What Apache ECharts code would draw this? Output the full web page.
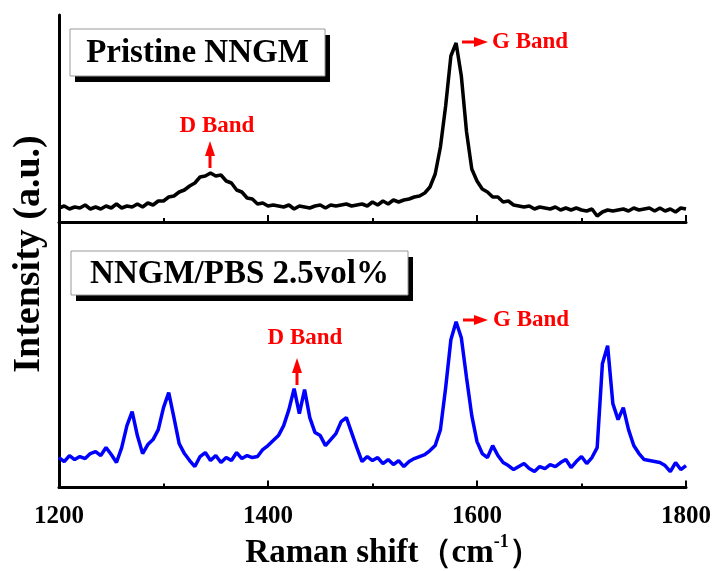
<!DOCTYPE html>
<html>
<head>
<meta charset="utf-8">
<title>Raman spectra of NNGM</title>
<script src="https://cdn.jsdelivr.net/npm/echarts@6/dist/echarts.min.js"></script>
<style>
  html, body { margin: 0; padding: 0; background: #fff; }
  #chart { width: 714px; height: 571px; }
</style>
</head>
<body>
<div id="chart"></div>
<script>
// Raman shift (cm-1), sample positions shared by both spectra
const ramanShift = [
  1200, 1205, 1210, 1215, 1220, 1225, 1230, 1235, 1240, 1245,
  1250, 1255, 1260, 1265, 1270, 1275, 1280, 1285, 1290, 1295,
  1300, 1305, 1310, 1315, 1320, 1325, 1330, 1335, 1340, 1345,
  1350, 1355, 1360, 1365, 1370, 1375, 1380, 1385, 1390, 1395,
  1400, 1405, 1410, 1415, 1420, 1425, 1430, 1435, 1440, 1445,
  1450, 1455, 1460, 1465, 1470, 1475, 1480, 1485, 1490, 1495,
  1500, 1505, 1510, 1515, 1520, 1525, 1530, 1535, 1540, 1545,
  1550, 1555, 1560, 1565, 1570, 1575, 1580, 1585, 1590, 1595,
  1600, 1605, 1610, 1615, 1620, 1625, 1630, 1635, 1640, 1645,
  1650, 1655, 1660, 1665, 1670, 1675, 1680, 1685, 1690, 1695,
  1700, 1705, 1710, 1715, 1720, 1725, 1730, 1735, 1740, 1745,
  1750, 1755, 1760, 1765, 1770, 1775, 1780, 1785, 1790, 1795,
  1800
]

// intensity (a.u.)
const pristine = [
  14, 16, 13, 15, 14, 17, 13, 15, 13, 16,
  14, 18, 14, 16, 15, 18, 15, 19, 17, 21,
  21, 25, 26, 30, 32, 36, 39, 45, 46, 49,
  46, 47, 41, 39, 32, 30, 24, 23, 18, 19,
  16, 17, 16, 15, 17, 13, 16, 15, 14, 16,
  17, 14, 17, 16, 17, 18, 16, 17, 18, 16,
  20, 17, 21, 18, 22, 20, 22, 23, 25, 26,
  29, 35, 48, 75, 116, 166, 179, 146, 90, 53,
  41, 33, 30, 25, 25, 20, 21, 17, 16, 15,
  16, 13, 15, 14, 13, 15, 12, 14, 12, 14,
  12, 11, 13, 6, 10, 12, 11, 12, 13, 11,
  14, 12, 13, 14, 11, 14, 11, 13, 10, 14,
  13
]

const pbsComposite = [
  30, 26, 32, 28, 31, 29, 34, 36, 32, 40,
  33, 25, 40, 62, 76, 52, 34, 43, 48, 58,
  80, 95, 70, 44, 34, 27, 21, 31, 35, 27,
  32, 25, 30, 27, 35, 29, 32, 30, 31, 38,
  42, 47, 52, 62, 78, 99, 74, 98, 70, 55,
  52, 42, 48, 54, 66, 70, 55, 40, 26, 31,
  27, 30, 24, 28, 23, 27, 21, 26, 29, 31,
  33, 37, 42, 58, 100, 148, 166, 150, 110, 72,
  46, 34, 30, 42, 32, 25, 22, 18, 21, 24,
  19, 16, 21, 19, 23, 21, 25, 28, 20, 26,
  31, 24, 30, 40, 124, 142, 84, 68, 80, 58,
  42, 34, 28, 27, 26, 25, 22, 16, 25, 18,
  22
]

const xTicks = [1200, 1400, 1600, 1800]
const panelNames = ['Pristine NNGM', 'NNGM/PBS 2.5vol%']
const bandNames = ['D Band', 'G Band']

const serif = "'Times New Roman', 'Liberation Serif', serif"
const red = '#ff0000'

function toPairs (values) {
  return ramanShift.map((x, i) => [x, values[i]])
}

function xAxisOf (gridIndex, withLabels) {
  return {
    type: 'value',
    gridIndex,
    min: xTicks[0],
    max: xTicks[xTicks.length - 1],
    interval: xTicks[1] - xTicks[0],
    axisLine: { show: true, onZero: false, lineStyle: { color: '#000', width: 3 } },
    axisTick: { show: true, inside: true, length: 7, lineStyle: { color: '#000', width: 2 } },
    minorTick: { show: true, splitNumber: 2, length: 4, lineStyle: { color: '#000', width: 2 } },
    splitLine: { show: false },
    axisLabel: {
      show: withLabels,
      margin: 17,
      color: '#000',
      fontFamily: serif,
      fontWeight: 'bold',
      fontSize: 25,
      formatter: v => String(v)
    }
  }
}

function yAxisOf (gridIndex, max) {
  return {
    type: 'value',
    gridIndex,
    min: 0,
    max,
    axisLine: { show: true, lineStyle: { color: '#000', width: 3 } },
    axisTick: { show: false },
    axisLabel: { show: false },
    splitLine: { show: false }
  }
}

// boxed panel title with a black drop shadow
function panelLabel (text, x, y, w, h) {
  return [
    { type: 'rect', shape: { x: x + 5, y: y + 6, width: w, height: h }, style: { fill: '#000' } },
    { type: 'rect', shape: { x, y, width: w, height: h }, style: { fill: '#fff', stroke: '#999', lineWidth: 1 } },
    {
      type: 'text',
      x: x + w / 2,
      y: y + h / 2 + 1,
      style: { text, font: 'bold 33px ' + serif, fill: '#000', textAlign: 'center', textVerticalAlign: 'middle' }
    }
  ]
}

function arrowUp (cx, yTail, yTip) {
  return [
    { type: 'rect', shape: { x: cx - 1.5, y: yTip + 12, width: 3, height: yTail - yTip - 12 }, style: { fill: red } },
    { type: 'polygon', shape: { points: [[cx - 5, yTip + 15], [cx + 5, yTip + 15], [cx, yTip]] }, style: { fill: red } }
  ]
}

function arrowRight (xTail, xTip, cy) {
  return [
    { type: 'rect', shape: { x: xTail, y: cy - 1.5, width: xTip - xTail - 10, height: 3 }, style: { fill: red } },
    { type: 'polygon', shape: { points: [[xTip - 14, cy - 5], [xTip - 14, cy + 5], [xTip, cy]] }, style: { fill: red } }
  ]
}

function bandText (text, x, y, align) {
  return {
    type: 'text',
    x,
    y,
    style: { text, font: 'bold 23px ' + serif, fill: red, textAlign: align, textVerticalAlign: 'middle' }
  }
}

const chart = echarts.init(document.getElementById('chart'))

const option = {
  backgroundColor: '#fff',
  animation: false,
  grid: [
    { left: 59, right: 28, top: 15, height: 207 },
    { left: 59, right: 28, top: 222, height: 266 }
  ],
  xAxis: [
    xAxisOf(0, false),
    Object.assign(xAxisOf(1, true), {
      name: '{t|Raman shift（cm}{s|-1}{t|）}',
      nameLocation: 'middle',
      nameGap: 46,
      nameTextStyle: {
        padding: [0, 0, 0, 42],
        rich: {
          t: { fontFamily: serif, fontWeight: 'bold', fontSize: 33, lineHeight: 40, color: '#000' },
          s: { fontFamily: serif, fontWeight: 'bold', fontSize: 18, lineHeight: 18, color: '#000', verticalAlign: 'top' }
        }
      }
    })
  ],
  yAxis: [yAxisOf(0, 207), yAxisOf(1, 266)],
  series: [
    {
      type: 'line',
      xAxisIndex: 0,
      yAxisIndex: 0,
      data: toPairs(pristine),
      showSymbol: false,
      lineStyle: { color: '#000', width: 3.5 }
    },
    {
      type: 'line',
      xAxisIndex: 1,
      yAxisIndex: 1,
      data: toPairs(pbsComposite),
      showSymbol: false,
      lineStyle: { color: '#0000ff', width: 3.5 }
    }
  ],
  graphic: [
    {
      type: 'text',
      x: 29,
      y: 254,
      rotation: Math.PI / 2,
      style: { text: 'Intensity (a.u.)', font: 'bold 38px ' + serif, fill: '#000', textAlign: 'center', textVerticalAlign: 'middle' }
    },
    ...panelLabel(panelNames[0], 70, 29, 255, 47),
    ...panelLabel(panelNames[1], 71, 251, 337, 44),
    ...arrowUp(210, 168, 141),
    bandText(bandNames[0], 217, 126, 'center'),
    ...arrowRight(462, 488, 42),
    bandText(bandNames[1], 492, 42, 'left'),
    ...arrowUp(297, 385, 358),
    bandText(bandNames[0], 305, 338, 'center'),
    ...arrowRight(463, 488, 320),
    bandText(bandNames[1], 493, 320, 'left')
  ]
}

chart.setOption(option)
</script>
</body>
</html>
